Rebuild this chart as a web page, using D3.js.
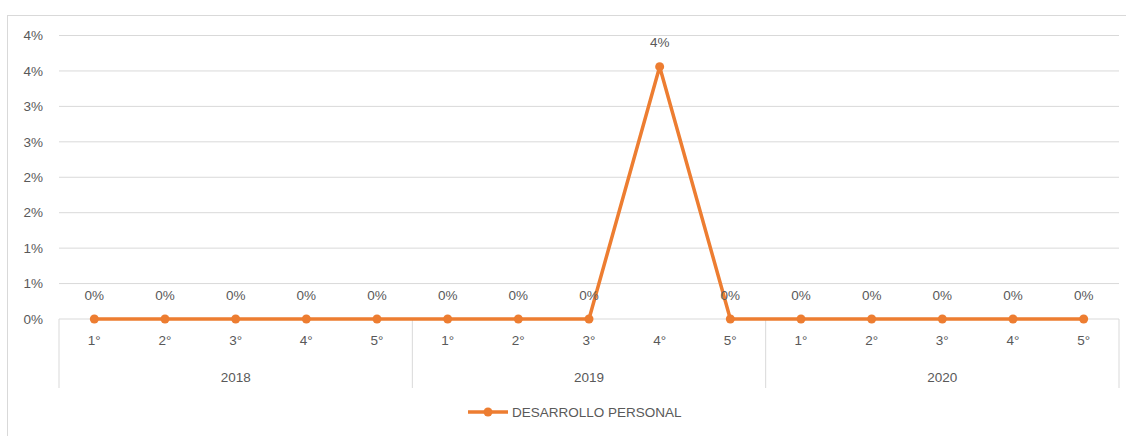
<!DOCTYPE html>
<html>
<head>
<meta charset="utf-8">
<script src="https://cdn.jsdelivr.net/npm/d3@7"></script>
<style>
  body { margin: 0; background: #fff; }
  svg text { font-family: "Liberation Sans", Arial, sans-serif; fill: #595959; }
</style>
</head>
<body>
<div id="chart"></div>
<script>
// data
const years = ["2018", "2019", "2020"];
const grades = ["1°", "2°", "3°", "4°", "5°"];
const seriesName = "DESARROLLO PERSONAL";
const values = [0, 0, 0, 0, 0, 0, 0, 0, 0.0356, 0, 0, 0, 0, 0, 0];
const yTicks = [0, 0.005, 0.01, 0.015, 0.02, 0.025, 0.03, 0.035, 0.04];

(function () {
    const W = 1126, H = 436;
    const margin = { top: 35.5, right: 7, bottom: 117, left: 59 };
    const width = W - margin.left - margin.right;
    const height = H - margin.top - margin.bottom;
    const orange = "#ED7D31";
    const grid = "#d9d9d9";
    const fs = 13.5;

    const svg = d3.select("#chart").append("svg")
        .attr("width", W).attr("height", H);

    // outer chart frame
    svg.append("rect")
        .attr("x", 7.5).attr("y", 15.5)
        .attr("width", W + 10).attr("height", H + 10)
        .attr("fill", "none").attr("stroke", grid);

    const g = svg.append("g")
        .attr("transform", `translate(${margin.left},${margin.top})`);

    // categories: one per year/grade pair
    const cats = [];
    years.forEach(yr => grades.forEach(gr => cats.push({ key: yr + "-" + gr, year: yr, grade: gr })));

    const x = d3.scaleBand().domain(cats.map(d => d.key)).range([0, width]);
    const y = d3.scaleLinear().domain([0, 0.04]).range([height, 0]);
    const fmt = d3.format(".0%");

    // gridlines + y labels
    g.append("g").selectAll("line").data(yTicks.slice(1)).join("line")
        .attr("x1", 0).attr("x2", width)
        .attr("y1", d => y(d)).attr("y2", d => y(d))
        .attr("stroke", grid).attr("stroke-width", 1);

    g.append("g").selectAll("text").data(yTicks).join("text")
        .attr("x", -16).attr("y", d => y(d)).attr("dy", "0.35em")
        .attr("text-anchor", "end").attr("font-size", fs)
        .text(d => fmt(d));

    // x axis baseline and year group separators
    g.append("line").attr("x1", 0).attr("x2", width)
        .attr("y1", height).attr("y2", height).attr("stroke", grid);

    const groupW = x.bandwidth() * grades.length;
    d3.range(years.length + 1).forEach(i => {
        g.append("line")
            .attr("x1", i * groupW).attr("x2", i * groupW)
            .attr("y1", height).attr("y2", height + 69)
            .attr("stroke", grid);
    });

    g.append("g").selectAll("text").data(cats).join("text")
        .attr("x", d => x(d.key) + x.bandwidth() / 2)
        .attr("y", height + 21).attr("dy", "0.35em")
        .attr("text-anchor", "middle").attr("font-size", fs)
        .text(d => d.grade);

    g.append("g").selectAll("text").data(years).join("text")
        .attr("x", (d, i) => i * groupW + groupW / 2)
        .attr("y", height + 58).attr("dy", "0.35em")
        .attr("text-anchor", "middle").attr("font-size", fs)
        .text(d => d);

    // line + markers
    const pts = cats.map((c, i) => ({ key: c.key, v: values[i] }));
    const line = d3.line()
        .x(d => x(d.key) + x.bandwidth() / 2)
        .y(d => y(d.v));

    g.append("path").datum(pts)
        .attr("d", line).attr("fill", "none")
        .attr("stroke", orange).attr("stroke-width", 3.5)
        .attr("stroke-linejoin", "round");

    g.append("g").selectAll("circle").data(pts).join("circle")
        .attr("cx", d => x(d.key) + x.bandwidth() / 2)
        .attr("cy", d => y(d.v)).attr("r", 4.5)
        .attr("fill", orange);

    // data labels
    g.append("g").selectAll("text").data(pts).join("text")
        .attr("x", d => x(d.key) + x.bandwidth() / 2)
        .attr("y", d => y(d.v) - 24).attr("dy", "0.35em")
        .attr("text-anchor", "middle").attr("font-size", fs)
        .text(d => fmt(d.v));

    // legend
    const lg = svg.append("g").attr("transform", "translate(468,412)");
    lg.append("line").attr("x1", 0).attr("x2", 40)
        .attr("stroke", orange).attr("stroke-width", 3.5);
    lg.append("circle").attr("cx", 20).attr("r", 4.5).attr("fill", orange);
    lg.append("text").attr("x", 44).attr("dy", "0.35em")
        .attr("font-size", fs).text(seriesName);
})();
</script>
</body>
</html>
